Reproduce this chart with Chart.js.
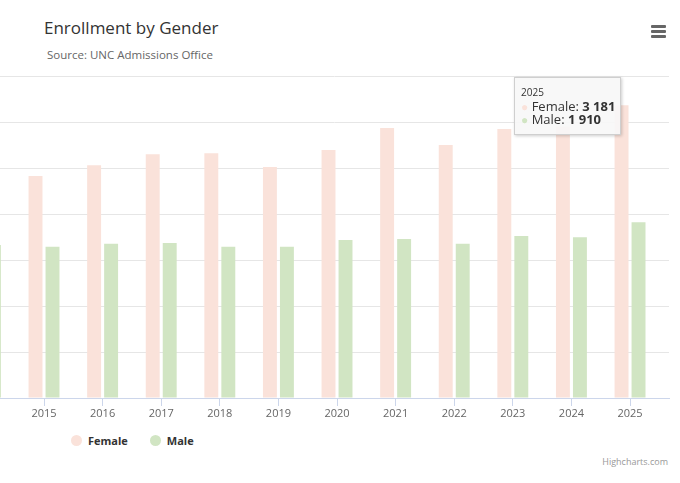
<!DOCTYPE html>
<html>
<head>
<meta charset="utf-8">
<title>Enrollment by Gender</title>
<script src="https://cdn.jsdelivr.net/npm/chart.js@4.4.1/dist/chart.umd.min.js"></script>
<style>
  body { margin: 0; background: #fff; font-family: "Open Sans", sans-serif; overflow: hidden; }
  #wrap { position: relative; width: 680px; height: 483px; overflow: hidden; }
  #box { position: absolute; left: 0; top: 0; width: 680px; height: 430px; }
  .title { position: absolute; left: 44px; top: 16px; font-size: 17px; color: #333; white-space: nowrap; }
  .subtitle { position: absolute; left: 47px; top: 47px; font-size: 11.5px; color: #666; white-space: nowrap; }
  .menu { position: absolute; left: 651px; top: 25px; width: 15px; }
  .menu span { display: block; height: 2.5px; background: #666; margin-bottom: 2.5px; border-radius: 1px; }
  .legend { position: absolute; left: 71px; top: 433px; font-size: 11px; font-weight: bold; color: #333; }
  .legend span.item { display: inline-block; margin-right: 22px; }
  .legend i { display: inline-block; width: 11px; height: 11px; border-radius: 50%; vertical-align: -1px; margin-right: 6px; }
  .credit { position: absolute; right: 12px; top: 455px; font-size: 9px; color: #999; }
  #tip { position: absolute; display: none; background: rgba(247,247,247,0.9); border: 1px solid #cfcfcf;
         box-shadow: 1px 1px 3px rgba(0,0,0,0.2); padding: 8px 5px 8px 6px; font-size: 13px; color: #333;
         line-height: 13px; white-space: nowrap; }
  #tip .head { font-size: 10px; margin-bottom: 1px; }
  #tip .dot { font-size: 12px; }
</style>
</head>
<body>
<div id="wrap">
  <div class="title">Enrollment by Gender</div>
  <div class="subtitle">Source: UNC Admissions Office</div>
  <div class="menu"><span></span><span></span><span></span></div>
  <div id="box"><canvas id="enrollment-chart"></canvas></div>
  <div id="tip"></div>
  <div class="legend" id="legend"></div>
  <div class="credit">Highcharts.com</div>
</div>
<script>
const years = ['2014', '2015', '2016', '2017', '2018', '2019', '2020', '2021', '2022', '2023', '2024', '2025'];
// 2014 female bar sits off the left edge, so it is left empty
const femaleValues = [null, 2413, 2529, 2649, 2660, 2511, 2696, 2935, 2750, 2924, 2950, 3181];
const maleValues = [1663, 1645, 1677, 1685, 1645, 1645, 1717, 1728, 1677, 1761, 1747, 1910];
const seriesNames = ['Female', 'Male'];
const seriesColors = ['#fae2da', '#d1e5c3'];
const yTicks = [0, 500, 1000, 1500, 2000, 2500, 3000, 3500];

const ctx = document.getElementById('enrollment-chart').getContext('2d');

function spaced(n) {
    return String(n).replace(/\B(?=(\d{3})+(?!\d))/g, ' ');
}

// html tooltip so the value can be bold like the original
function drawTooltip(context) {
    const tip = context.tooltip;
    const el = document.getElementById('tip');
    if (tip.opacity === 0) { el.style.display = 'none'; return; }
    const pts = tip.dataPoints;
    let html = '<div class="head">' + years[pts[0].parsed.x] + '</div>';
    pts.forEach(function (p) {
        html += '<div><span class="dot" style="color:' + seriesColors[p.datasetIndex] + '">\u25CF</span> '
            + seriesNames[p.datasetIndex] + ': <b>' + spaced(p.parsed.y) + '</b></div>';
    });
    el.innerHTML = html;
    el.style.display = 'block';
    el.style.left = (tip.caretX - 116) + 'px';
    el.style.top = (context.chart.chartArea.top + 1) + 'px';
}

const enrollmentChart = new Chart(ctx, {
    type: 'bar',
    data: {
        datasets: [{
            label: seriesNames[0],
            data: femaleValues.map((v, i) => ({ x: i, y: v })),
            backgroundColor: seriesColors[0],
            categoryPercentage: 0.58,
            barPercentage: 0.82
        }, {
            label: seriesNames[1],
            data: maleValues.map((v, i) => ({ x: i, y: v })),
            backgroundColor: seriesColors[1],
            categoryPercentage: 0.58,
            barPercentage: 0.82
        }]
    },
    options: {
        responsive: true,
        maintainAspectRatio: false,
        animation: false,
        layout: { padding: { top: 76, right: 11, left: 0, bottom: 0 } },
        scales: {
            x: {
                type: 'linear',
                min: 0.249,
                max: 11.665,
                offset: false,
                grid: { display: true, offset: false, drawOnChartArea: false, drawTicks: true, tickLength: 8, color: '#ccd6eb' },
                border: { display: true, color: '#ccd6eb' },
                ticks: {
                    stepSize: 1,
                    includeBounds: false,
                    autoSkip: false,
                    maxRotation: 0,
                    padding: 1,
                    color: '#666',
                    font: { family: 'Open Sans', size: 11 },
                    callback: function (v) { return years[v] || ''; }
                },
                afterFit: function (scale) { scale.height = 32; }
            },
            y: {
                min: yTicks[0],
                max: yTicks[yTicks.length - 1],
                ticks: { display: false, stepSize: yTicks[1] - yTicks[0] },
                grid: { color: '#e6e6e6', drawTicks: false },
                border: { display: false },
                afterFit: function (scale) { scale.width = 0; }
            }
        },
        plugins: {
            legend: { display: false },
            tooltip: {
                enabled: false,
                mode: 'index',
                intersect: false,
                external: drawTooltip
            }
        }
    }
});

// legend
document.getElementById('legend').innerHTML = seriesNames.map(function (name, i) {
    return '<span class="item"><i style="background:' + seriesColors[i] + '"></i>' + name + '</span>';
}).join('');

// show the 2025 tooltip like in the screenshot
const last = years.length - 1;
enrollmentChart.tooltip.setActiveElements([
    { datasetIndex: 0, index: last },
    { datasetIndex: 1, index: last }
], { x: 630, y: 165 });
enrollmentChart.update();
</script>
</body>
</html>
